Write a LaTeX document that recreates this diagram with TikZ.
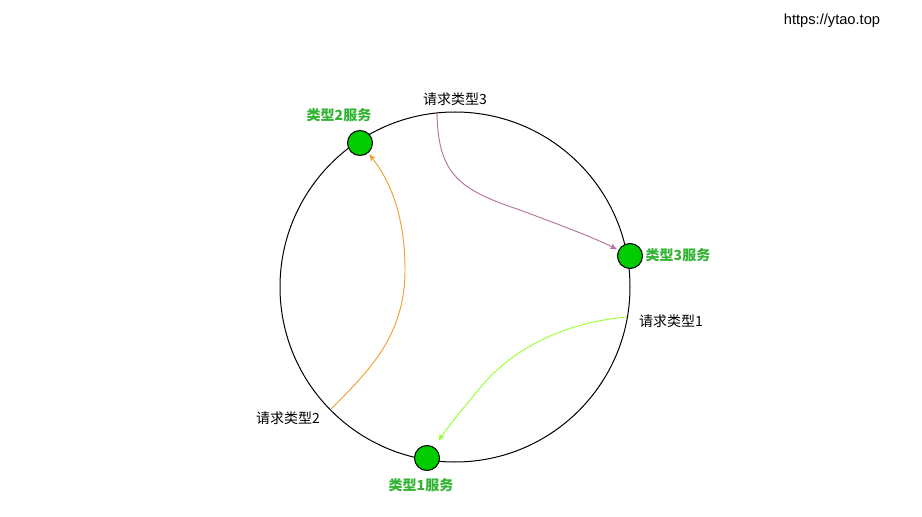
\documentclass[tikz,border=0pt]{standalone}
\usepackage{fontspec}
\setmainfont{Liberation Sans}
\newfontfamily\cjk{Noto Sans CJK SC}
\usepackage{tikz}
\usetikzlibrary{arrows}
\definecolor{srvgreen}{HTML}{00CC00}
\definecolor{srvtext}{HTML}{33B333}
\definecolor{reqpurple}{HTML}{B5739D}
\definecolor{reqlime}{HTML}{99FF33}
\definecolor{reqorange}{HTML}{F0A030}

\begin{document}
\begin{tikzpicture}[x=0.75pt,y=-0.75pt,>=stealth',
        server/.style={circle, draw=black, fill=srvgreen, thick, minimum size=18.75pt, inner sep=0pt},
        srvlabel/.style={text=srvtext, font=\cjk\bfseries\fontsize{10.5}{12}\selectfont},
        reqlabel/.style={font=\cjk\fontsize{10.5}{12}\selectfont},
        request/.style={->, line width=0.7pt, shorten >=1.5pt}]
            \useasboundingbox (0,0) rectangle (922,517);
            \node (site) at (832,21) {\fontsize{11}{12}\selectfont https://ytao.top};

            \draw[black, line width=0.75pt] (455,287) circle [radius=175];

            \node[server] (S2) at (360,143) {};
            \node[server] (S3) at (630,256) {};
            \node[server] (S1) at (427,458) {};
            \node[srvlabel] (L2) at (339,115) {类型2服务};
            \node[srvlabel] (L3) at (678,255) {类型3服务};
            \node[srvlabel] (L1) at (421,485) {类型1服务};

            \node[reqlabel] (R3) at (455,99) {请求类型3};
            \node[reqlabel] (R1) at (671,321) {请求类型1};
            \node[reqlabel] (R2) at (288,418) {请求类型2};

            \coordinate (Q3) at (437,113);
            \coordinate (Q1) at (627,317);
            \coordinate (Q2) at (331,409);

            \draw[request, reqpurple] (Q3) .. controls (438,175) and (460,190) .. (520,210)
                .. controls (560,225) and (595,238) .. (S3);
            \draw[request, reqlime, shorten >=6pt] (Q1) .. controls (570,322) and (515,345) .. (480,388)
                .. controls (460,412) and (447,428) .. (S1);
            \draw[request, reqorange] (Q2) .. controls (370,370) and (405,335) .. (405,270)
                .. controls (405,215) and (390,180) .. (S2);
\end{tikzpicture}
\end{document}
